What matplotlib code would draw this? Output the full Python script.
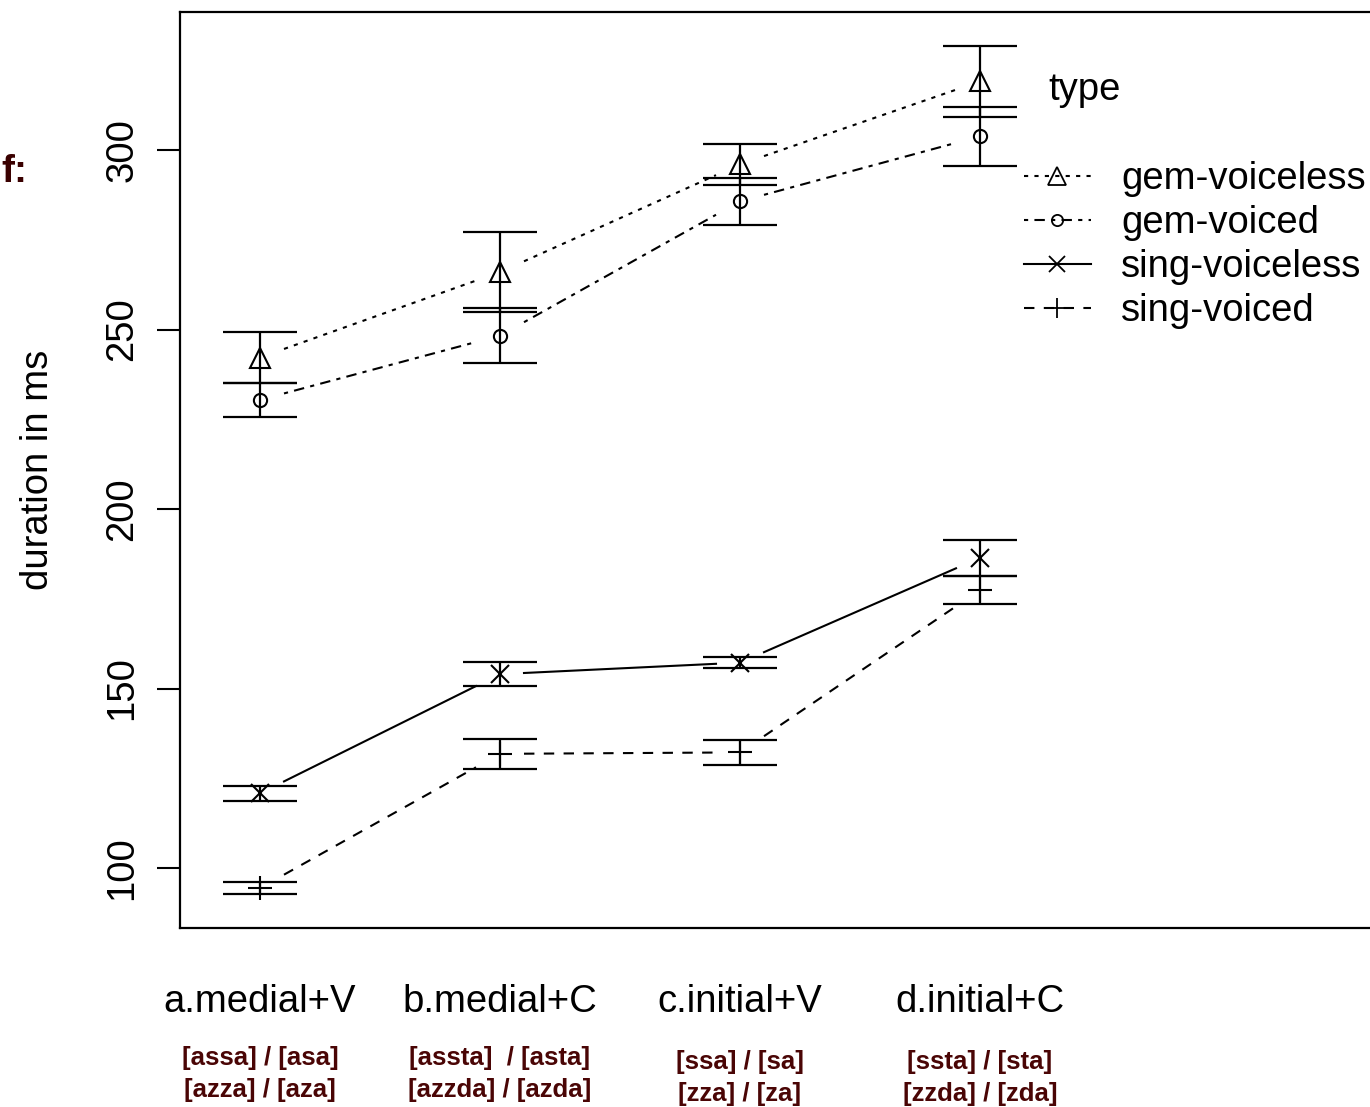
import numpy as np
import matplotlib
matplotlib.use("Agg")
import matplotlib.pyplot as plt
from matplotlib import font_manager
from matplotlib.lines import Line2D
import matplotlib.transforms as mtransforms

# data
categories = ["a.medial+V", "b.medial+C", "c.initial+V", "d.initial+C"]
words_top = ["[assa] / [asa]", "[assta]  / [asta]", "[ssa] / [sa]", "[ssta] / [sta]"]
words_bottom = ["[azza] / [aza]", "[azzda] / [azda]", "[zza] / [za]", "[zzda] / [zda]"]

gem_voiceless = [242.2, 266.0, 296.0, 319.1]
gem_voiceless_se = [7.1, 11.1, 5.7, 9.9]
gem_voiced = [230.4, 248.3, 285.7, 303.8]
gem_voiced_se = [4.7, 7.7, 6.5, 8.2]
sing_voiceless = [120.8, 154.0, 157.2, 186.4]
sing_voiceless_se = [2.1, 3.3, 1.5, 5.0]
sing_voiced = [94.4, 131.8, 132.2, 177.4]
sing_voiced_se = [1.7, 4.2, 3.5, 3.9]

series_names = ["gem-voiceless", "gem-voiced", "sing-voiceless", "sing-voiced"]

plt.rcParams['font.family'] = ['Liberation Sans', 'DejaVu Sans']

names = {f.name for f in font_manager.fontManager.ttflist}
if 'Liberation Sans Narrow' in names:
    red_font = ['Liberation Sans Narrow', 'Liberation Sans']
    red_size = 22.5
else:
    red_font = ['Liberation Sans', 'DejaVu Sans']
    red_size = 18.5
red = '#4a0505'

fig = plt.figure(figsize=(13.7, 11.07), dpi=100)
ax = fig.add_axes([180 / 1370, 1 - 928 / 1107, 1195 / 1370, 916 / 1107])

x = np.arange(1, 5)
styles = [
    dict(marker='^', ms=15, ls=(0, (2, 3))),
    dict(marker='o', ms=9.5, ls=(0, (2, 3, 5, 3))),
    dict(marker='x', ms=13, ls='-'),
    dict(marker='+', ms=17, ls=(0, (5, 4.5))),
]
means = [gem_voiceless, gem_voiced, sing_voiceless, sing_voiced]
errs = [gem_voiceless_se, gem_voiced_se, sing_voiceless_se, sing_voiced_se]

t = 0.1
for m, e, st in zip(means, errs, styles):
    m = np.array(m)
    # connecting lines with a small gap at each point
    for i in range(len(x) - 1):
        x0, x1 = x[i], x[i + 1]
        y0, y1 = m[i], m[i + 1]
        ax.plot([x0 + t * (x1 - x0), x1 - t * (x1 - x0)],
                [y0 + t * (y1 - y0), y1 - t * (y1 - y0)],
                color='black', lw=1.5, ls=st['ls'])
    ax.plot(x, m, ls='none', marker=st['marker'], ms=st['ms'],
            mfc='none', mec='black', mew=1.5)
    ax.errorbar(x, m, yerr=e, fmt='none', ecolor='black', elinewidth=1.6,
                capsize=26.5, capthick=1.6)

ax.set_xlim(1 - 80 / 240, 1 + 1115 / 240)
ax.set_ylim(300 - 778 / 3.59, 300 + 138 / 3.59)

ax.set_yticks([100, 150, 200, 250, 300])
ax.set_yticklabels(['100', '150', '200', '250', '300'], rotation=90, va='center')
ax.tick_params(axis='y', length=16.5, width=1.5, labelsize=27.5, pad=12)
ax.set_xticks(x)
ax.set_xticklabels(categories)
ax.tick_params(axis='x', length=0, labelsize=27.5, pad=40)
ax.set_ylabel('duration in ms', fontsize=27.5, labelpad=35)
for s in ax.spines.values():
    s.set_linewidth(1.6)

# legend
handles = [Line2D([], [], color='black', lw=1.5, ls=st['ls'], marker=st['marker'],
                  ms=st['ms'] * 0.85, mfc='none', mec='black', mew=1.3) for st in styles]
fig.legend(handles, series_names, loc='upper left',
           bbox_to_anchor=(1024 / 1370, 1 - 161 / 1107), frameon=False,
           fontsize=27.5, handlelength=1.75, handletextpad=0.8,
           labelspacing=0.21, borderpad=0, borderaxespad=0)
fig.text(1048 / 1370, 1 - 90 / 1107, 'type', fontsize=27.5, va='center', ha='left')

# red word labels under the categories
trans = mtransforms.blended_transform_factory(ax.transData, fig.transFigure)
y_top = [1058, 1058, 1062, 1062]
y_bot = [1090, 1090, 1094, 1094]
for xi, w1, w2, yt, yb in zip(x, words_top, words_bottom, y_top, y_bot):
    ax.text(xi, 1 - yt / 1107, w1, transform=trans, ha='center', va='center',
            family=red_font, fontsize=red_size, fontweight='bold', color=red,
            clip_on=False)
    ax.text(xi, 1 - yb / 1107, w2, transform=trans, ha='center', va='center',
            family=red_font, fontsize=red_size, fontweight='bold', color=red,
            clip_on=False)

fig.text(1 / 1370, 1 - 172 / 1107, 'f:', fontsize=28, fontweight='bold',
         color='#3a0000', va='center', ha='left')

fig.savefig('out.png', dpi=100)
